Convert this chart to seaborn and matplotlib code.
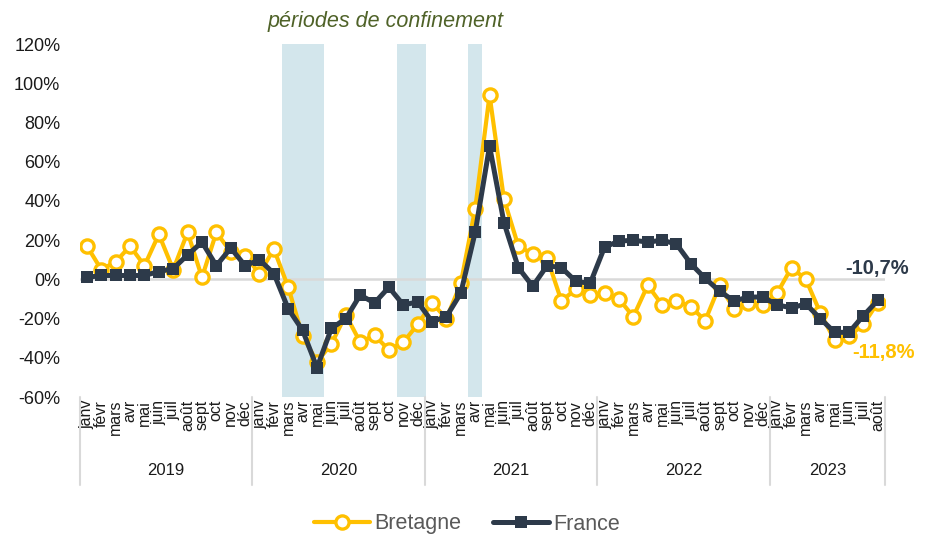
import numpy as np
import pandas as pd
import matplotlib
matplotlib.use("Agg")
import matplotlib.pyplot as plt
import matplotlib.transforms as mtransforms
import seaborn as sns

# Monthly values, Jan 2019 -> Aug 2023 (in %)
months = ['janv', 'févr', 'mars', 'avr', 'mai', 'juin',
          'juil', 'août', 'sept', 'oct', 'nov', 'déc']
years = ['2019', '2020', '2021', '2022', '2023']
months_per_year = [12, 12, 12, 12, 8]

bretagne = [17, 5, 9, 17, 7, 23, 5, 24, 1, 24, 14, 12,
            3, 15.5, -4, -29, -42, -33, -18, -32, -28.5, -36, -32, -23,
            -12, -20, -2, 36, 94, 41, 17, 13, 11, -11, -5, -8,
            -7, -10, -19, -3, -13, -11, -14, -21, -3, -15, -12, -13,
            -7, 6, 0, -17, -31, -29, -23, -11.8]
france = [1, 2, 2, 2, 2, 4, 5.5, 12.5, 19, 7, 16, 7,
          10, 3, -15, -26, -45, -25, -20, -8, -12, -4, -13, -11.5,
          -21.5, -19, -7, 24, 68, 29, 6, -3.5, 7, 6, -1, -2,
          16.5, 19.5, 20, 19, 20, 18, 8, 0.5, -6, -11, -9, -9,
          -13, -14.5, -12.5, -20, -27, -27, -18.5, -10.7]

# lockdown periods, as month positions
confinements = [(13.55, 16.5), (21.55, 23.55), (26.5, 27.45)]

labels = [m for n in months_per_year for m in months[:n]]
df = pd.DataFrame({'mois': np.arange(len(labels)), 'Bretagne': bretagne, 'France': france})

sns.set_style("white")
plt.rcParams['font.family'] = ['Liberation Sans', 'DejaVu Sans']

yellow = '#FFC000'
navy = '#2D3A4A'

fig = plt.figure(figsize=(9.34, 5.38), dpi=100)
ax = fig.add_axes([0.0854, 0.262, 0.8621, 0.656])

for a, b in confinements:
    ax.axvspan(a, b, color='#D3E6EC', zorder=0, lw=0)
ax.axhline(0, color='#D9D9D9', lw=1.8, zorder=1)

sns.lineplot(data=df, x='mois', y='Bretagne', ax=ax, color=yellow, lw=3.0,
             marker='o', markersize=9.5, markerfacecolor='white',
             markeredgecolor=yellow, markeredgewidth=2.4, label='Bretagne', zorder=3)
sns.lineplot(data=df, x='mois', y='France', ax=ax, color=navy, lw=3.6,
             marker='s', markersize=8.5, markeredgewidth=0, label='France', zorder=4)

ax.set_xlim(-0.5, len(labels) - 0.5)
ax.set_ylim(-60, 120)
ax.set_yticks(range(-60, 121, 20))
ax.set_yticklabels([f'{v}%' for v in range(-60, 121, 20)], fontsize=13, color='#1a1a1a')
ax.set_xticks(df['mois'])
ax.set_xticklabels(labels, rotation=90, fontsize=11.5, color='#1a1a1a')
ax.tick_params(axis='y', length=0, pad=14)
ax.tick_params(axis='x', length=0, pad=2)
ax.set_xlabel('')
ax.set_ylabel('')
for s in ax.spines.values():
    s.set_visible(False)

# year separators and year labels
trans = mtransforms.blended_transform_factory(ax.transData, ax.transAxes)
start = 0
for y, n in zip(years, months_per_year):
    ax.plot([start - 0.5, start - 0.5], [0, -0.25], transform=trans,
            color='#D9D9D9', lw=1.5, clip_on=False)
    ax.text(start + (n - 1) / 2, -0.207, y, transform=trans, ha='center',
            va='center', fontsize=12, color='#1a1a1a')
    start += n
ax.plot([start - 0.5, start - 0.5], [0, -0.25], transform=trans,
        color='#D9D9D9', lw=1.5, clip_on=False)

# end labels
ax.text(len(labels) - 1.05, 5.6, '-10,7%', ha='center', va='center',
        fontsize=14.5, fontweight='bold', color=navy, clip_on=False)
ax.text(len(labels) - 0.6, -37.5, '-11,8%', ha='center', va='center',
        fontsize=14.5, fontweight='bold', color=yellow, clip_on=False)

fig.text(386 / 934, 1 - 22 / 538, 'périodes de confinement', ha='center', va='center',
         fontsize=15.5, style='italic', color='#4F6228')

ax.get_legend().remove()
h, l = ax.get_legend_handles_labels()
fig.legend(h, l, loc='center', bbox_to_anchor=(0.5, 1 - 524 / 538), ncol=2,
           frameon=False, fontsize=15.5, labelcolor='#595959', handlelength=2.6,
           columnspacing=1.5, handletextpad=0.2)

fig.savefig('out.png', dpi=100)
